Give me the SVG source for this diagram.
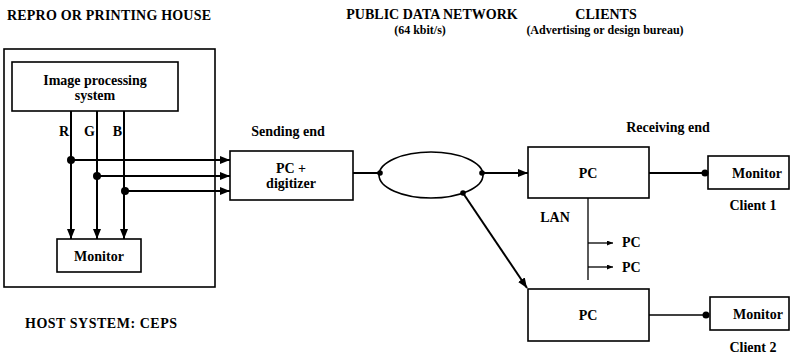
<svg xmlns="http://www.w3.org/2000/svg" width="791" height="354" viewBox="0 0 791 354">
  <style>
    text { font-family: "Liberation Serif", "Times New Roman", "DejaVu Serif", serif; font-weight: 700; font-size: 14px; fill: #000; }
    .mid { text-anchor: middle; }
    .end { text-anchor: end; }
    .sub { font-size: 12px; }
    .box { fill: #fff; stroke: #000; stroke-width: 1.6; }
    .frame { fill: none; stroke: #000; stroke-width: 1.6; }
    .wire { fill: none; stroke: #000; stroke-width: 2; }
    .thin { fill: none; stroke: #000; stroke-width: 1.3; }
    .dot { fill: #000; }
  </style>
  <defs>
    <marker id="arrow" markerUnits="userSpaceOnUse" markerWidth="10" markerHeight="8" refX="10" refY="4" orient="auto">
      <path d="M0,0 L10,4 L0,8 Z" fill="#000"/>
    </marker>
    <marker id="arrowSmall" markerUnits="userSpaceOnUse" markerWidth="6" markerHeight="5" refX="6" refY="2.5" orient="auto">
      <path d="M0,0 L6,2.5 L0,5 Z" fill="#000"/>
    </marker>
  </defs>

  <rect width="791" height="354" fill="#fff"/>

  <!-- section headings -->
  <text x="7" y="20" textLength="204" lengthAdjust="spacing">REPRO OR PRINTING HOUSE</text>
  <text class="mid" x="432" y="19">PUBLIC DATA NETWORK</text>
  <text class="mid sub" x="420" y="34">(64 kbit/s)</text>
  <text class="mid" x="606" y="19">CLIENTS</text>
  <text class="mid sub" x="605" y="34">(Advertising or design bureau)</text>
  <text class="mid" x="288" y="136">Sending end</text>
  <text class="mid" x="668" y="132">Receiving end</text>

  <!-- host system frame -->
  <g id="host-system">
    <rect class="frame" x="4" y="49" width="211" height="238"/>
    <text x="25" y="328" textLength="152" lengthAdjust="spacing">HOST SYSTEM: CEPS</text>
  </g>

  <g id="image-processing">
    <rect class="box" x="12" y="62" width="166" height="49"/>
    <text class="mid" x="95" y="85">Image processing</text>
    <text class="mid" x="95" y="100">system</text>
  </g>

  <g id="host-monitor">
    <rect class="box" x="57" y="239" width="84" height="33"/>
    <text class="mid" x="99" y="261">Monitor</text>
  </g>

  <g id="pc-digitizer">
    <rect class="box" x="230" y="151" width="123" height="49"/>
    <text class="mid" x="291" y="173">PC +</text>
    <text class="mid" x="291" y="188">digitizer</text>
  </g>

  <g id="network">
    <ellipse class="frame" cx="431" cy="175" rx="52" ry="23"/>
  </g>

  <g id="pc-client1">
    <rect class="box" x="528" y="147" width="121" height="51"/>
    <text class="mid" x="588" y="178">PC</text>
  </g>

  <g id="monitor-client1">
    <rect class="box" x="708" y="156" width="81" height="33"/>
    <text class="mid" x="757" y="178">Monitor</text>
    <text class="mid" x="753" y="210">Client 1</text>
  </g>

  <g id="lan">
    <text class="mid" x="555" y="222">LAN</text>
    <text x="622" y="247">PC</text>
    <text x="622" y="272">PC</text>
  </g>

  <g id="pc-client2">
    <rect class="box" x="528" y="289" width="121" height="52"/>
    <text class="mid" x="588" y="320">PC</text>
  </g>

  <g id="monitor-client2">
    <rect class="box" x="710" y="297" width="79" height="33"/>
    <text class="mid" x="758" y="319">Monitor</text>
    <text class="mid" x="753" y="352">Client 2</text>
  </g>

  <g id="connectors">
    <!-- R, G, B channels down to the host monitor -->
    <line class="wire" x1="71" y1="111" x2="71" y2="239" marker-end="url(#arrow)"/>
    <line class="wire" x1="97" y1="111" x2="97" y2="239" marker-end="url(#arrow)"/>
    <line class="wire" x1="124" y1="111" x2="124" y2="239" marker-end="url(#arrow)"/>
    <text class="end" x="69" y="136">R</text>
    <text class="end" x="95" y="136">G</text>
    <text class="end" x="122" y="136">B</text>

    <!-- taps to the digitizer -->
    <circle class="dot" cx="71" cy="160" r="4"/>
    <circle class="dot" cx="97" cy="176" r="4"/>
    <circle class="dot" cx="125" cy="191" r="4"/>
    <line class="wire" x1="71" y1="160" x2="230" y2="160" marker-end="url(#arrow)"/>
    <line class="wire" x1="97" y1="176" x2="230" y2="176" marker-end="url(#arrow)"/>
    <line class="wire" x1="125" y1="191" x2="230" y2="191" marker-end="url(#arrow)"/>

    <!-- digitizer into the public network -->
    <line class="wire" x1="353" y1="173" x2="380" y2="173"/>
    <circle class="dot" cx="380" cy="173" r="2.8"/>
    <circle class="dot" cx="482" cy="173" r="2.8"/>
    <circle class="dot" cx="463" cy="193" r="2.8"/>

    <!-- network out to the receiving PCs -->
    <line class="wire" x1="482" y1="173" x2="528" y2="173" marker-end="url(#arrow)"/>
    <line class="wire" x1="463" y1="193" x2="527" y2="288" marker-end="url(#arrow)"/>

    <!-- PCs to client monitors -->
    <line class="wire" x1="649" y1="173" x2="706" y2="173"/>
    <circle class="dot" cx="705" cy="173" r="3.5"/>
    <line class="thin" x1="649" y1="315" x2="708" y2="315"/>
    <circle class="dot" cx="706" cy="315" r="3.5"/>

    <!-- LAN backbone and further PCs -->
    <line class="thin" x1="588" y1="198" x2="588" y2="280"/>
    <line class="thin" x1="588" y1="243" x2="613" y2="243" marker-end="url(#arrowSmall)"/>
    <line class="thin" x1="588" y1="267" x2="613" y2="267" marker-end="url(#arrowSmall)"/>
  </g>
</svg>
